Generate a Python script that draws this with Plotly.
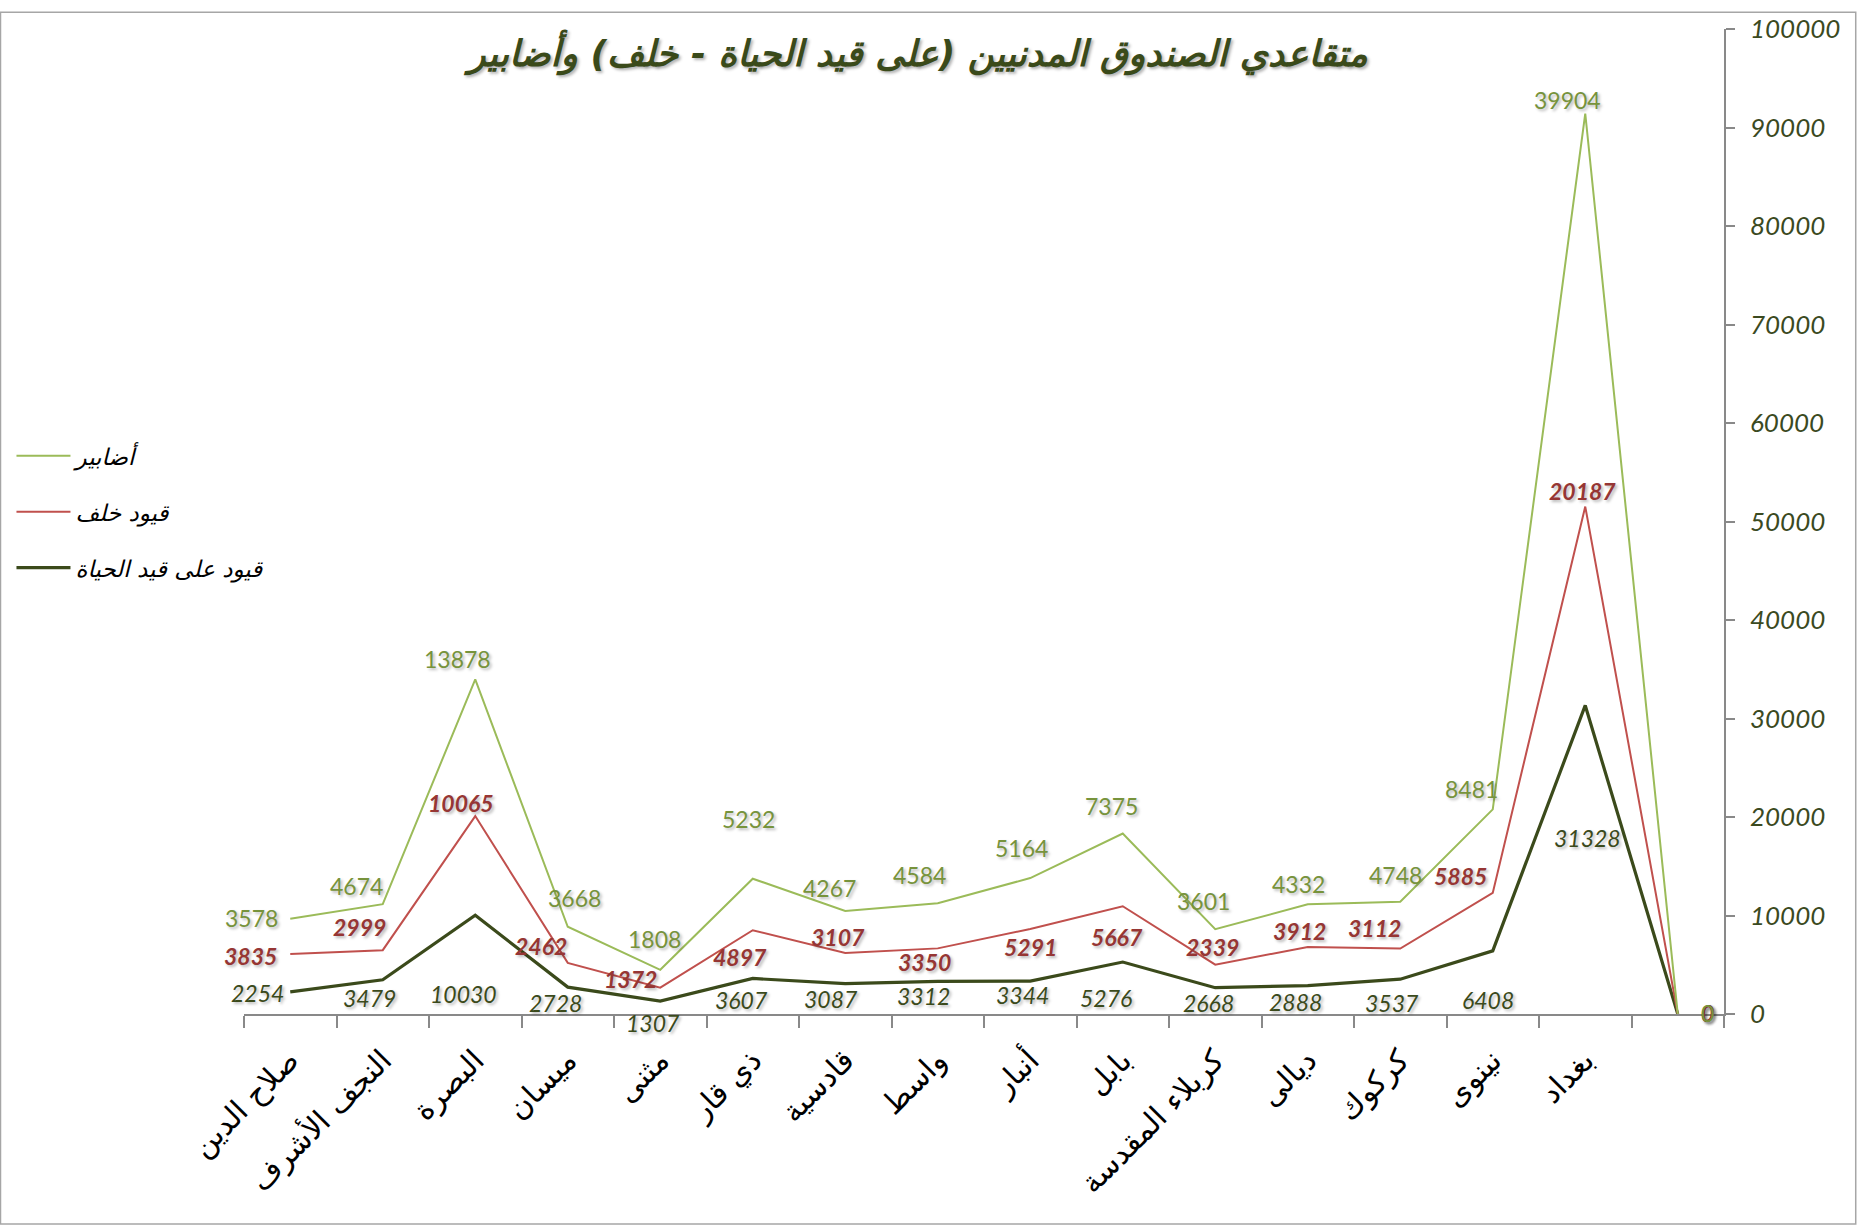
import plotly.graph_objects as go
import numpy as np

# ---------------- data ----------------
categories = ["صلاح الدين", "النجف الأشرف", "البصرة", "ميسان", "مثنى", "ذي قار",
              "قادسية", "واسط", "أنبار", "بابل", "كربلاء المقدسة", "ديالى",
              "كركوك", "نينوى", "بغداد", "\u200b"]
alive = [2254, 3479, 10030, 2728, 1307, 3607, 3087, 3312, 3344, 5276, 2668, 2888, 3537, 6408, 31328, 0]
behind = [3835, 2999, 10065, 2462, 1372, 4897, 3107, 3350, 5291, 5667, 2339, 3912, 3112, 5885, 20187, 0]
files = [3578, 4674, 13878, 3668, 1808, 5232, 4267, 4584, 5164, 7375, 3601, 4332, 4748, 8481, 39904, 0]

series_names = ["قيود على قيد الحياة", "قيود خلف", "أضابير"]
title_text = "متقاعدي الصندوق المدنيين (على قيد الحياة - خلف) وأضابير"
y_ticks = list(range(0, 100001, 10000))

# stacked (cumulative) values, as in the original stacked line chart
stack = np.cumsum(np.array([alive, behind, files]), axis=0)

# ---------------- label offsets (pixels, styling) ----------------
alive_off = [(-33, -1), (-13, -18), (-12, -79), (-12, -16), (-7, -22), (-11, -22), (-14, -15),
             (-14, -15), (-8, -14), (-17, -36), (-7, -15), (-12, -16), (-8, -24), (-5, -49),
             (2, -133), (30, 1)]
behind_off = [(-40, -2), (-23, 23), (-14, 13), (-27, 17), (-30, 9), (-13, -27), (-7, 16),
              (-13, -14), (0, -18), (-6, -31), (-3, 18), (-8, 16), (-26, 21), (-32, 17),
              (-3, 16), (30, 1)]
files_off = [(-39, 1), (-26, 18), (-18, 20), (7, 29), (-6, 31), (-4, 60), (-16, 23),
             (-18, 28), (-9, 30), (-11, 28), (-12, 28), (-9, 20), (-5, 27), (-21, 20),
             (-18, 14), (30, 1)]

# ---------------- style ----------------
W, H = 1859, 1227
L, R, T, B = 241, 135, 20, 213
PW, PH = W - L - R, H - T - B

line_colors = ["#3b4a1b", "#c0504d", "#9bbb59"]
line_widths = [3.2, 2, 2]
label_colors = ["#3b4a1b", "#963634", "#77933c"]
label_weights = ["normal", "bold", "normal"]
label_styles = ["italic", "italic", "normal"]
legend_ranks = [3, 2, 1]
num_font = "Lato, DejaVu Sans, sans-serif"
ar_font = "DejaVu Sans, sans-serif"
shadow = "2px 2px 3px rgba(0,0,0,0.28)"

fig = go.Figure()
for k in range(3):
    fig.add_trace(go.Scatter(
        x=categories, y=stack[k], mode="lines", name=series_names[k],
        legendgroup=f"g{k}", legendrank=legend_ranks[k],
        line=dict(color=line_colors[k], width=line_widths[k]),
        hoverinfo="skip"))

raw = [alive, behind, files]
offs = [alive_off, behind_off, files_off]
annotations = []
for k in range(3):
    for i, c in enumerate(categories):
        dx, dy = offs[k][i]
        annotations.append(dict(
            x=c, y=stack[k][i], xref="x", yref="y", text=str(raw[k][i]),
            showarrow=False, xshift=dx, yshift=dy,
            font=dict(family=num_font, size=23, color=label_colors[k],
                      weight=label_weights[k], style=label_styles[k], shadow=shadow)))

def px2paper_x(px):
    return (px - L) / PW

def py2paper_y(py):
    return (H - B - py) / PH

shapes = [dict(type="rect", xref="paper", yref="paper",
               x0=px2paper_x(-3), x1=px2paper_x(1856), y0=py2paper_y(1226), y1=py2paper_y(3),
               line=dict(color="#a6a6a6", width=1.5), fillcolor="rgba(0,0,0,0)", layer="below")]

fig.update_layout(
    width=W, height=H, autosize=False,
    margin=dict(l=L, r=R, t=T, b=B),
    paper_bgcolor="white", plot_bgcolor="white",
    title=dict(text=title_text, xref="container", yref="container",
               x=918 / W, y=1 - 53 / H, xanchor="center", yanchor="middle",
               font=dict(family=ar_font, size=36, color="#3a4a1a", weight="bold",
                         style="italic", shadow="2px 2px 3px rgba(0,0,0,0.3)")),
    showlegend=True,
    legend=dict(x=px2paper_x(8), y=py2paper_y(429), xanchor="left", yanchor="top",
                traceorder="grouped", tracegroupgap=23,
                font=dict(family=ar_font, size=23, color="black", style="italic"),
                bgcolor="rgba(0,0,0,0)", itemwidth=54),
    xaxis=dict(type="category", categoryorder="array", categoryarray=categories,
               range=[-0.5, len(categories) - 0.5],
               showline=True, linecolor="#898989", linewidth=1.5,
               ticks="outside", ticklen=12, tickcolor="#898989", tickwidth=1.5,
               tickson="boundaries", tickangle=-45, showgrid=False, zeroline=False,
               tickfont=dict(family=ar_font, size=30, color="black"),
               ticklabelstandoff=15),
    yaxis=dict(side="right", range=[0, 100000], tickvals=y_ticks,
               ticktext=[str(v) for v in y_ticks],
               showline=True, linecolor="#898989", linewidth=1.5,
               ticks="outside", ticklen=9, tickcolor="#898989", tickwidth=1.5,
               showgrid=False, zeroline=False,
               tickfont=dict(family=num_font, size=26, color="#3b4a1f", style="italic"),
               ticklabelstandoff=10),
    annotations=annotations,
    shapes=shapes,
)

fig.write_html("out.html", config={"displayModeBar": False},
               post_script="document.body.style.margin='0';document.body.style.overflow='hidden';")
